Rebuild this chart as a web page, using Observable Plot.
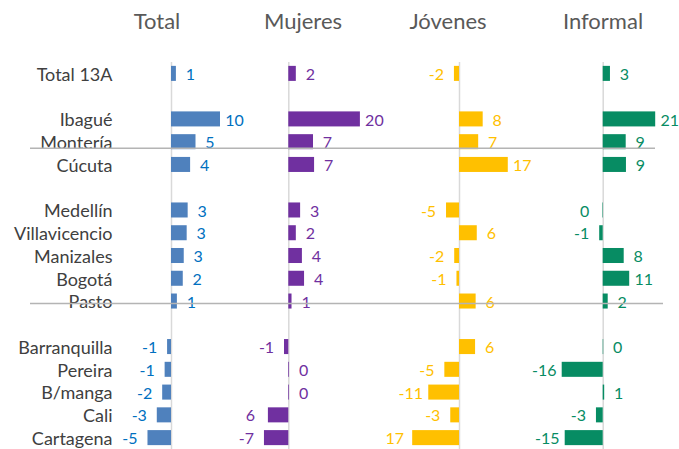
<!DOCTYPE html>
<html>
<head>
<meta charset="utf-8">
<script src="https://cdn.jsdelivr.net/npm/d3@7"></script>
<script src="https://cdn.jsdelivr.net/npm/@observablehq/plot@0.6"></script>
<style>
  body { margin: 0; background: #fff; font-family: Lato, "Open Sans", sans-serif; }
  #chart { position: relative; width: 679px; height: 449px; overflow: hidden; }
  #chart svg { position: absolute; left: 0; top: 0; }
  .title { position: absolute; top: 8px; font-size: 22px; color: #595959; transform: translateX(-50%); white-space: nowrap; line-height: 1.2; }
</style>
</head>
<body>
<div id="chart"></div>
<script>
// ---- data ----
const groups = [
  ["Total 13A"],
  ["Ibagué", "Montería", "Cúcuta"],
  ["Medellín", "Villavicencio", "Manizales", "Bogotá", "Pasto"],
  ["Barranquilla", "Pereira", "B/manga", "Cali", "Cartagena"]
];
const categories = groups.flat();

const totalValues    = [1.0, 10.0, 5.0, 3.9, 3.4, 3.2, 2.6, 2.4, 1.2, -0.8, -1.3, -1.8, -2.9, -4.8];
const mujeresValues  = [2.1, 20.0, 6.9, 7.2, 3.3, 2.1, 3.8, 4.4, 0.9, -1.2, 0.2, 0.2, -5.7, -6.8];
const jovenesValues  = [-1.8, 8.4, 6.8, 17.3, -4.6, 6.3, -1.7, -0.9, 5.9, 5.7, -5.2, -10.9, -3.1, -16.6];
const informalValues = [2.9, 21.0, 9.2, 9.3, -0.2, -1.4, 8.4, 10.6, 2.0, 0.2, -16.4, 0.6, -2.7, -15.2];

const totalLabels    = ["1", "10", "5", "4", "3", "3", "3", "2", "1", "-1", "-1", "-2", "-3", "-5"];
const mujeresLabels  = ["2", "20", "7", "7", "3", "2", "4", "4", "1", "-1", "0", "0", "6", "-7"];
const jovenesLabels  = ["-2", "8", "7", "17", "-5", "6", "-2", "-1", "6", "6", "-5", "-11", "-3", "17"];
const informalLabels = ["3", "21", "9", "9", "0", "-1", "8", "11", "2", "0", "-16", "1", "-3", "-15"];

const panelTitles = ["Total", "Mujeres", "Jóvenes", "Informal"];
const separatorRows = ["Montería", "Pasto"];

// ---- layout / style ----
const W = 679, H = 449;
const FONT = "Lato, 'Open Sans', sans-serif";
// row domain with blank spacer rows between groups
const rows = [];
groups.forEach((g, i) => { if (i > 0) rows.push(" ".repeat(i)); rows.push(...g); });

const panels = [
  {title: panelTitles[0], values: totalValues,    labels: totalLabels,    bar: "#4F81BD", text: "#0070C0", zero: 171,   per10: 49,   titleX: 157},
  {title: panelTitles[1], values: mujeresValues,  labels: mujeresLabels,  bar: "#7030A0", text: "#7030A0", zero: 288.3, per10: 35.8, titleX: 303},
  {title: panelTitles[2], values: jovenesValues,  labels: jovenesLabels,  bar: "#FFC000", text: "#FFC000", zero: 459,   per10: 28.2, titleX: 448},
  {title: panelTitles[3], values: informalValues, labels: informalLabels, bar: "#078C63", text: "#078C63", zero: 602.7, per10: 25.0, titleX: 603}
];

const yScale = {domain: rows, axis: null, paddingInner: 0.34, paddingOuter: 0.17, round: false};
const common = {
  width: W, height: H, marginTop: 62, marginBottom: 0, marginLeft: 0, marginRight: 0,
  style: {background: "transparent", overflow: "visible", fontFamily: FONT}
};

const chart = document.getElementById("chart");

for (const p of panels) {
  const data = categories.map((c, i) => ({cat: c, value: p.values[i], label: p.labels[i]}));
  const svg = Plot.plot({
    ...common,
    x: {domain: [0, 10], range: [p.zero, p.zero + p.per10], axis: null},
    y: yScale,
    marks: [
      Plot.ruleX([0], {stroke: "#d9d9d9", strokeWidth: 1.5}),
      Plot.barX(data, {x: "value", y: "cat", fill: p.bar}),
      Plot.text(data, {filter: d => d.value >= 0, x: "value", y: "cat", text: "label",
        textAnchor: "middle", dx: 14, dy: 1, fill: p.text, fontSize: 16}),
      Plot.text(data, {filter: d => d.value < 0, x: "value", y: "cat", text: "label",
        textAnchor: "middle", dx: -18, dy: 1, fill: p.text, fontSize: 16})
    ]
  });
  chart.appendChild(svg);
}

// category labels + grey separator lines (on top)
const labelSvg = Plot.plot({
  ...common,
  marginLeft: 30, marginRight: 16,
  y: yScale,
  marks: [
    Plot.text(categories, {y: d => d, frameAnchor: "left", dx: 82, dy: 1, textAnchor: "end",
      fill: "#404040", fontSize: 18}),
    Plot.ruleY(separatorRows.slice(0, 1), {y: d => d, dy: 6, stroke: "#b4b4b4", strokeWidth: 1.5, insetRight: 8}),
    Plot.ruleY(separatorRows.slice(1), {y: d => d, dy: 2, stroke: "#b4b4b4", strokeWidth: 1.5})
  ]
});
chart.appendChild(labelSvg);

// panel titles
for (const p of panels) {
  const t = document.createElement("div");
  t.className = "title";
  t.textContent = p.title;
  t.style.left = p.titleX + "px";
  chart.appendChild(t);
}
</script>
</body>
</html>
